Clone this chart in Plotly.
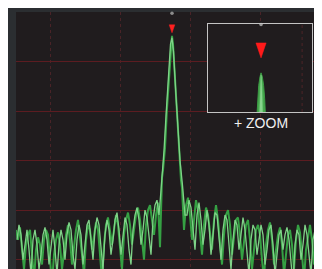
import numpy as np
import plotly.graph_objects as go

# ---------------- data (frequency bins, level in dB) ----------------
# live trace (A)
a_step = 2.0
a_left_start = 0.0
a_left = [-44, -46, -43.5, -48, -52, -47, -45, -44, -49, -54,
          -48, -45.5, -47, -51, -46, -44, -45, -50, -55, -49,
          -46, -44.5, -47, -52, -48, -45, -43, -46, -51, -47,
          -44, -42, -45, -49, -53, -46, -43, -44, -48, -45,
          -42.5, -44, -50, -54, -47, -43, -41.5, -44, -47, -44,
          -41, -43, -48, -52, -45, -42, -40.5, -43, -47, -44,
          -41, -39.5, -42, -46, -50, -43, -40, -39, -42, -45,
          -41, -38.5]
a_lobe_x = [144, 146, 147, 149, 151, 153, 155, 156, 157, 159, 161, 163, 165, 166, 168]
a_lobe_y = [-47.5, -33.5, -32, -27.5, -19.5, -13, -6, -4.8, -6.5, -13.5, -20, -28, -34, -35.5, -44]
a_right_start = 170.0
a_right = [-39, -37.5, -41, -46, -42, -38, -40, -45, -49, -43,
           -39.5, -41, -44, -48, -42, -39, -42, -47, -51, -45,
           -41, -40, -43, -49, -46, -42, -41.5, -45, -50, -47,
           -43, -42, -46, -52, -48, -44, -43, -45, -50, -54,
           -47, -44, -42.5, -46, -51, -48, -45, -43.5, -47, -53,
           -49, -45, -44, -47, -52, -46, -43, -44.5, -49, -54,
           -48, -45, -43, -46, -51, -47, -44, -45, -49]

# max-hold trace (B)
b_step = 2.0
b_left_start = 1.0
b_left = [-46, -43, -45, -50, -47, -44, -48, -53, -46, -44,
          -47, -52, -49, -45, -43.5, -46, -51, -47, -44, -48,
          -53, -47, -44, -46, -50, -45, -42.5, -44, -49, -52,
          -46, -43, -45, -51, -47, -43, -42, -46, -50, -44,
          -41.5, -43, -47, -52, -45, -42, -44, -49, -46, -42,
          -40.5, -44, -49, -45, -41.5, -43, -48, -51, -44, -41,
          -39.5, -42, -47, -44, -40, -41.5, -46, -49, -42, -39,
          -38, -41]
b_lobe_x = [145, 146.5, 148, 150, 152, 154.5, 156, 157.5, 160, 162, 164, 166.5, 167.5, 169]
b_lobe_y = [-36, -32.5, -28, -21, -14, -6.5, -5.2, -8, -17, -24, -30, -35, -37, -41]
b_right_start = 171.0
b_right = [-41, -38, -39.5, -44, -48, -41, -38.5, -42, -47, -44,
           -40, -43, -49, -45, -40.5, -41, -46, -50, -44, -41,
           -42, -47, -52, -46, -42, -43, -48, -45, -41.5, -44,
           -49, -53, -46, -43, -44, -49, -46, -43, -45, -51,
           -48, -44, -43, -47, -53, -49, -45, -44, -48, -45,
           -43.5, -46, -51, -55, -47, -44, -45, -50, -47, -43,
           -45, -49, -53, -46, -44, -47, -51, -45]

peak_x, peak_level = 156.0, -4.8
grid_x = [34, 104, 174, 244]

# zoomed view of the carrier (inset)
zoom_range_x = [-10.2, 9.8]
zoom_range_y = [-20, 0]
zoom_x = [-0.8, -0.65, -0.45, -0.2, 0.0, 0.25, 0.5, 0.7, 0.85]
zoom_y = [-21, -17, -14, -12, -11.1, -12, -14, -17, -21]
zoom_core_x = [-0.3, -0.15, 0.0, 0.15, 0.3]
zoom_core_y = [-21, -14, -11.6, -14, -21]
zoom_grid_x = 7.9

# ---------------- build ----------------
def series(start, step, vals):
    return list(start + step * np.arange(len(vals))), vals

ax_l, ay_l = series(a_left_start, a_step, a_left)
ax_r, ay_r = series(a_right_start, a_step, a_right)
bx_l, by_l = series(b_left_start, b_step, b_left)
bx_r, by_r = series(b_right_start, b_step, b_right)
a_x = ax_l + a_lobe_x + ax_r
a_y = ay_l + a_lobe_y + ay_r
b_x = bx_l + b_lobe_x + bx_r
b_y = by_l + b_lobe_y + by_r

fig = go.Figure()
fig.add_trace(go.Scatter(x=a_x, y=a_y, mode="lines",
                         line=dict(color="#35a043", width=2.0), hoverinfo="skip"))
fig.add_trace(go.Scatter(x=b_x, y=b_y, mode="lines",
                         line=dict(color="#7fd388", width=1.3), hoverinfo="skip"))

# main marker (red triangle above peak)
tri_w, tri_top, tri_bot = 2.8, peak_level + 2.2, peak_level + 0.6
fig.add_trace(go.Scatter(x=[peak_x - tri_w, peak_x + tri_w, peak_x, peak_x - tri_w],
                         y=[tri_top, tri_top, tri_bot, tri_top], mode="lines",
                         fill="toself", fillcolor="#ff2020", line=dict(color="#ff2020", width=0.5),
                         hoverinfo="skip"))
fig.add_trace(go.Scatter(x=[peak_x], y=[-0.25], mode="markers", cliponaxis=False,
                         marker=dict(size=3.5, color="#8c8c8c"), hoverinfo="skip"))

# inset background (covers main grid)
x0, x1 = zoom_range_x
y0, y1 = zoom_range_y
fig.add_trace(go.Scatter(x=[x0, x1, x1, x0, x0], y=[y0, y0, y1, y1, y0], mode="lines",
                         fill="toself", fillcolor="#201c1e", line=dict(width=0),
                         xaxis="x2", yaxis="y2", hoverinfo="skip"))
fig.add_trace(go.Scatter(x=[zoom_grid_x, zoom_grid_x], y=[y0, y1], mode="lines",
                         line=dict(color="#4d2428", width=1, dash="dot"),
                         xaxis="x2", yaxis="y2", hoverinfo="skip"))
# inset traces
fig.add_trace(go.Scatter(x=zoom_x, y=zoom_y, mode="lines", fill="toself",
                         fillcolor="#45a84d", line=dict(color="#3d9c45", width=1),
                         xaxis="x2", yaxis="y2", hoverinfo="skip"))
fig.add_trace(go.Scatter(x=zoom_core_x, y=zoom_core_y, mode="lines", fill="toself",
                         fillcolor="#86d48c", line=dict(color="#86d48c", width=0.5),
                         xaxis="x2", yaxis="y2", hoverinfo="skip"))
zt_w, zt_top, zt_bot = 0.98, -4.3, -7.7
fig.add_trace(go.Scatter(x=[-zt_w, zt_w, 0, -zt_w], y=[zt_top, zt_top, zt_bot, zt_top],
                         mode="lines", fill="toself", fillcolor="#ff1a1a",
                         line=dict(color="#ff1a1a", width=0.5),
                         xaxis="x2", yaxis="y2", hoverinfo="skip"))
fig.add_trace(go.Scatter(x=[0], y=[-0.1], mode="markers", cliponaxis=False,
                         marker=dict(size=3.5, color="#9a9a9a"),
                         xaxis="x2", yaxis="y2", hoverinfo="skip"))

inset_dom_x = [(208 - 16) / 306, (312 - 16) / 306]
inset_dom_y = [(269 - 112) / 257, (269 - 24) / 257]

fig.add_annotation(text="+ ZOOM", xref="paper", yref="paper",
                   x=(261 - 16) / 306, y=(269 - 123) / 257, xanchor="center", yanchor="middle",
                   showarrow=False, font=dict(family="Liberation Sans", size=14, color="#f0f0f0"))

fig.update_layout(
    width=314, height=261,
    margin=dict(l=8, r=0, t=4, b=0, autoexpand=False),
    paper_bgcolor="#2b2e31", plot_bgcolor="#201c1e",
    showlegend=False,
    xaxis=dict(range=[0, 306], tickvals=grid_x, showticklabels=False, ticks="",
               showgrid=True, gridcolor="#4a2327", griddash="dot", gridwidth=1,
               zeroline=False, showline=False, fixedrange=True),
    yaxis=dict(range=[-51.9, 0], tick0=0, dtick=10, showticklabels=False, ticks="",
               showgrid=True, gridcolor="#5c1c21", gridwidth=1,
               zeroline=False, showline=False, fixedrange=True),
    xaxis2=dict(domain=inset_dom_x, anchor="y2", range=zoom_range_x, showgrid=False,
                showticklabels=False, ticks="", zeroline=False,
                showline=True, mirror=True, linecolor="#c4c4c4", linewidth=1.3),
    yaxis2=dict(domain=inset_dom_y, anchor="x2", range=zoom_range_y, showgrid=False,
                showticklabels=False, ticks="", zeroline=False,
                showline=True, mirror=True, linecolor="#c4c4c4", linewidth=1.3),
)

fig.write_html("out.html", config={"displayModeBar": False})
